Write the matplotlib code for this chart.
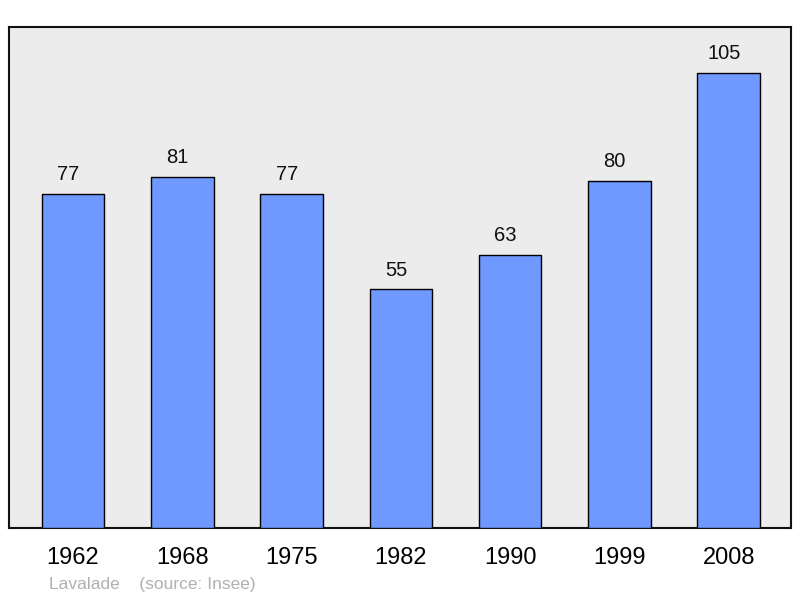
import matplotlib
matplotlib.use("Agg")
import matplotlib.pyplot as plt

years = ["1962", "1968", "1975", "1982", "1990", "1999", "2008"]
population = [77, 81, 77, 55, 63, 80, 105]
source_text = "Lavalade    (source: Insee)"

plt.rcParams['font.family'] = ['Liberation Sans', 'DejaVu Sans']

fig = plt.figure(figsize=(8, 5.98), dpi=100)
ax = fig.add_axes([8.5/800, 70/598, 782.5/800, 501/598])
ax.set_facecolor('#ececec')

x = list(range(len(years)))
bars = ax.bar(x, population, width=0.573, color='#7099ff', edgecolor='black',
              linewidth=1.0, zorder=3)
for b in bars:
    b.set_joinstyle('round')

for xi, v in zip(x, population):
    ax.annotate(str(v), (xi, v), xytext=(-3.5, 10), textcoords='offset points',
                ha='center', va='baseline', fontsize=14.5, color='#111111')

ax.set_xlim(-0.59, 6.57)
ax.set_ylim(0, 115.5)
ax.set_xticks(x)
ax.set_xticklabels(years, fontsize=17)
ax.tick_params(axis='x', length=0, pad=13.5)
ax.set_yticks([])
for s in ax.spines.values():
    s.set_linewidth(1.5)
    s.set_color('#111111')
    s.set_joinstyle('round')

fig.text(49/800, 1 - 585/598, source_text, fontsize=12.5, color='#b0b0b0',
         ha='left', va='center')

fig.savefig('out.png', dpi=100)
